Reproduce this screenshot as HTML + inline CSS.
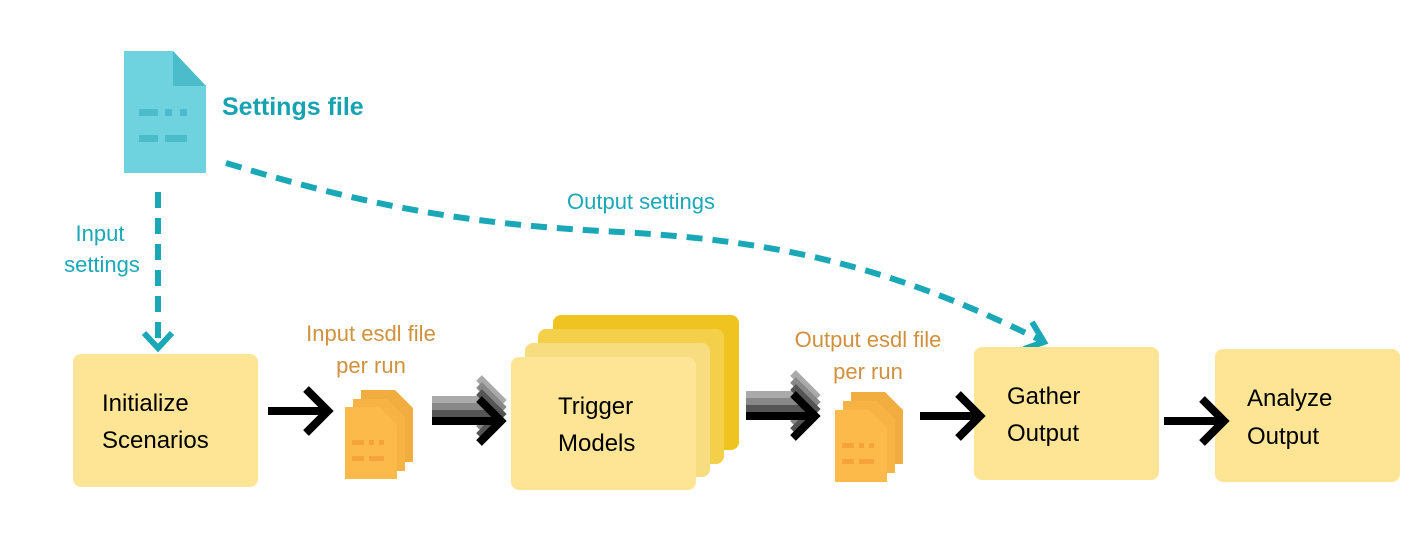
<!DOCTYPE html>
<html><head><meta charset="utf-8"><style>
html,body{margin:0;padding:0;background:#fff;}
svg{display:block;}
text{font-family:"Liberation Sans",sans-serif;}
</style></head><body>
<svg width="1414" height="560" viewBox="0 0 1414 560" xmlns="http://www.w3.org/2000/svg">
<defs>
<g id="doc">
  <path d="M0 0 H34 L52 18 V72 H0 Z" />
</g>
<g id="garrow">
  <line x1="0" y1="0" x2="68" y2="0" stroke-width="8"/>
  <polyline points="47,-22 69,0 47,22" fill="none" stroke-width="8"/>
</g>
<g id="sarrow">
  <line x1="0" y1="0" x2="58" y2="0" stroke-width="8"/>
  <polyline points="38,-22 60,0 38,22" fill="none" stroke-width="8"/>
</g>
</defs>

<path d="M124 51 H173 L206 86 V173 H124 Z" fill="#6fd3df"/>
<path d="M173 51 L206 86 H173 Z" fill="#4bbcc9"/>
<rect x="139" y="109" width="19" height="7" fill="#4bbcc9"/>
<rect x="165" y="109" width="7" height="7" fill="#4bbcc9"/>
<rect x="180" y="109" width="7" height="7" fill="#4bbcc9"/>
<rect x="139" y="135" width="19" height="7" fill="#4bbcc9"/>
<rect x="165" y="135" width="22" height="7" fill="#4bbcc9"/>
<text x="222" y="115" font-size="25" font-weight="bold" fill="#17a2b2">Settings file</text>

<line x1="158" y1="192" x2="158" y2="340" stroke="#1aa8b7" stroke-width="6" stroke-dasharray="16,10"/>
<polyline points="144,333 158,348 172,333" fill="none" stroke="#1aa8b7" stroke-width="6"/>
<text x="100" y="241" font-size="22" fill="#1aa8b7" text-anchor="middle">Input</text>
<text x="102" y="272" font-size="22" fill="#1aa8b7" text-anchor="middle">settings</text>

<path d="M226 163 C380 210 480 225 620 232 C760 240 880 260 1040 340" fill="none" stroke="#1aa8b7" stroke-width="6" stroke-dasharray="16,10"/>
<polyline points="1032,322 1044,342 1024,349" fill="none" stroke="#1aa8b7" stroke-width="6"/>
<text x="641" y="209" font-size="22" fill="#1aa8b7" text-anchor="middle">Output settings</text>

<rect x="73" y="354" width="185" height="133" rx="8" fill="#fde595"/>
<text x="102" y="411" font-size="24" fill="#000">Initialize</text>
<text x="102" y="448" font-size="24" fill="#000">Scenarios</text>

<g stroke="#000"><use href="#sarrow" x="268" y="411"/></g>

<g fill="#f2ad40"><use href="#doc" x="361" y="390"/></g>
<g fill="#f7b445"><use href="#doc" x="353" y="399"/></g>
<g fill="#fcba4b"><use href="#doc" x="345" y="407"/></g>
<rect x="352" y="440" width="12" height="5" fill="#f5a33a"/>
<rect x="369" y="440" width="5" height="5" fill="#f5a33a"/>
<rect x="379" y="440" width="5" height="5" fill="#f5a33a"/>
<rect x="352" y="456" width="12" height="5" fill="#f5a33a"/>
<rect x="369" y="456" width="15" height="5" fill="#f5a33a"/>
<text x="371" y="341" font-size="22" fill="#d0913f" text-anchor="middle">Input esdl file</text>
<text x="371" y="373" font-size="22" fill="#d0913f" text-anchor="middle">per run</text>

<g stroke="#aaa"><use href="#garrow" x="432" y="400"/></g>
<g stroke="#888"><use href="#garrow" x="432" y="407"/></g>
<g stroke="#555"><use href="#garrow" x="432" y="414"/></g>
<g stroke="#000"><use href="#garrow" x="432" y="421"/></g>

<rect x="553" y="315" width="186" height="135" rx="8" fill="#f0c420"/>
<rect x="538" y="329" width="186" height="135" rx="8" fill="#f4d04a"/>
<rect x="525" y="343" width="185" height="134" rx="8" fill="#f7dd80"/>
<rect x="511" y="357" width="185" height="133" rx="8" fill="#fde595"/>
<text x="558" y="414" font-size="24" fill="#000">Trigger</text>
<text x="558" y="451" font-size="24" fill="#000">Models</text>

<g stroke="#aaa"><use href="#garrow" x="746" y="395"/></g>
<g stroke="#888"><use href="#garrow" x="746" y="402"/></g>
<g stroke="#555"><use href="#garrow" x="746" y="409"/></g>
<g stroke="#000"><use href="#garrow" x="746" y="416"/></g>

<g fill="#f2ad40"><use href="#doc" x="851" y="392"/></g>
<g fill="#f7b445"><use href="#doc" x="843" y="401"/></g>
<g fill="#fcba4b"><use href="#doc" x="835" y="410"/></g>
<rect x="842" y="443" width="12" height="5" fill="#f5a33a"/>
<rect x="859" y="443" width="5" height="5" fill="#f5a33a"/>
<rect x="869" y="443" width="5" height="5" fill="#f5a33a"/>
<rect x="842" y="459" width="12" height="5" fill="#f5a33a"/>
<rect x="859" y="459" width="15" height="5" fill="#f5a33a"/>
<text x="868" y="347" font-size="22" fill="#d0913f" text-anchor="middle">Output esdl file</text>
<text x="868" y="379" font-size="22" fill="#d0913f" text-anchor="middle">per run</text>

<rect x="974" y="347" width="185" height="133" rx="8" fill="#fde595"/>
<text x="1007" y="404" font-size="24" fill="#000">Gather</text>
<text x="1007" y="441" font-size="24" fill="#000">Output</text>

<rect x="1215" y="349" width="185" height="133" rx="8" fill="#fde595"/>
<text x="1247" y="406" font-size="24" fill="#000">Analyze</text>
<text x="1247" y="444" font-size="24" fill="#000">Output</text>

<g stroke="#000"><use href="#sarrow" x="920" y="416"/></g>
<g stroke="#000"><use href="#sarrow" x="1164" y="421"/></g>
</svg>
</body></html>
